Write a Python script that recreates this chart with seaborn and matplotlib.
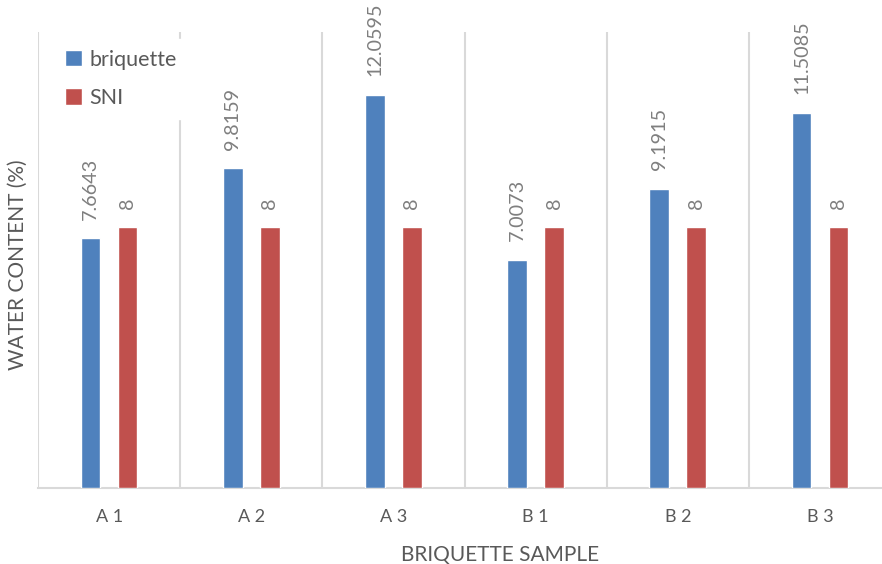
import numpy as np
import pandas as pd
import matplotlib
matplotlib.use("Agg")
import matplotlib.pyplot as plt
import seaborn as sns

# chart data
samples = ["A 1", "A 2", "A 3", "B 1", "B 2", "B 3"]
briquette = [7.6643, 9.8159, 12.0595, 7.0073, 9.1915, 11.5085]
sni = [8, 8, 8, 8, 8, 8]
label_text = {"briquette": ["7.6643", "9.8159", "12.0595", "7.0073", "9.1915", "11.5085"],
              "SNI": ["8"] * 6}

sns.set_style("white")
plt.rcParams['font.family'] = ['Lato', 'DejaVu Sans']

df = pd.DataFrame({
    "sample": samples * 2,
    "value": briquette + sni,
    "series": ["briquette"] * len(samples) + ["SNI"] * len(samples),
})

palette = {"briquette": "#4F81BD", "SNI": "#C0504D"}
text_grey = "#595959"
line_grey = "#D9D9D9"

fig = plt.figure(figsize=(8.82, 5.64), dpi=100)
ax = fig.add_axes([38 / 882, 1 - 488 / 564, 853 / 882, 456 / 564])

sns.barplot(data=df, x="sample", y="value", hue="series", palette=palette,
            width=0.52, gap=0.47, saturation=1, ax=ax, zorder=3)

for cont, name in zip(ax.containers, ["briquette", "SNI"]):
    ax.bar_label(cont, labels=label_text[name], rotation=90, padding=13.5,
                 color="#7F7F7F", fontsize=14.2)

ax.set_ylim(0, 14)
ax.set_xlim(-0.5, len(samples) - 0.5)
ax.set_yticks([])

# category separators
ax.set_xticks(np.arange(-0.5, len(samples), 1), minor=True)
ax.grid(True, axis="x", which="minor", color=line_grey, lw=1.5, zorder=0)
ax.grid(False, axis="x", which="major")
ax.tick_params(axis="x", which="both", length=0)
ax.tick_params(axis="x", which="major", pad=15, labelsize=13, labelcolor=text_grey)

for s in ["top", "right", "left"]:
    ax.spines[s].set_visible(False)
ax.spines["bottom"].set_color(line_grey)
ax.spines["bottom"].set_linewidth(1.5)

ax.set_xlabel("BRIQUETTE SAMPLE", fontsize=15, color=text_grey)
ax.set_ylabel("WATER CONTENT (%)", fontsize=15, color=text_grey)
ax.xaxis.set_label_coords((500 - 38) / 853, -(545 - 488) / 456)
ax.yaxis.set_label_coords(-10 / 853, 0.49)

leg = ax.legend(loc="upper left", bbox_to_anchor=(16 / 853, 0.985), frameon=True,
                fontsize=15.5, labelspacing=0.85, handlelength=0.8,
                handleheight=0.8, handletextpad=0.35, borderaxespad=0.0,
                borderpad=0.5)
leg.get_frame().set_facecolor("white")
leg.get_frame().set_edgecolor("white")
leg.get_frame().set_alpha(1)
leg.set_zorder(5)
for t in leg.get_texts():
    t.set_color(text_grey)

fig.savefig("out.png", dpi=100)
